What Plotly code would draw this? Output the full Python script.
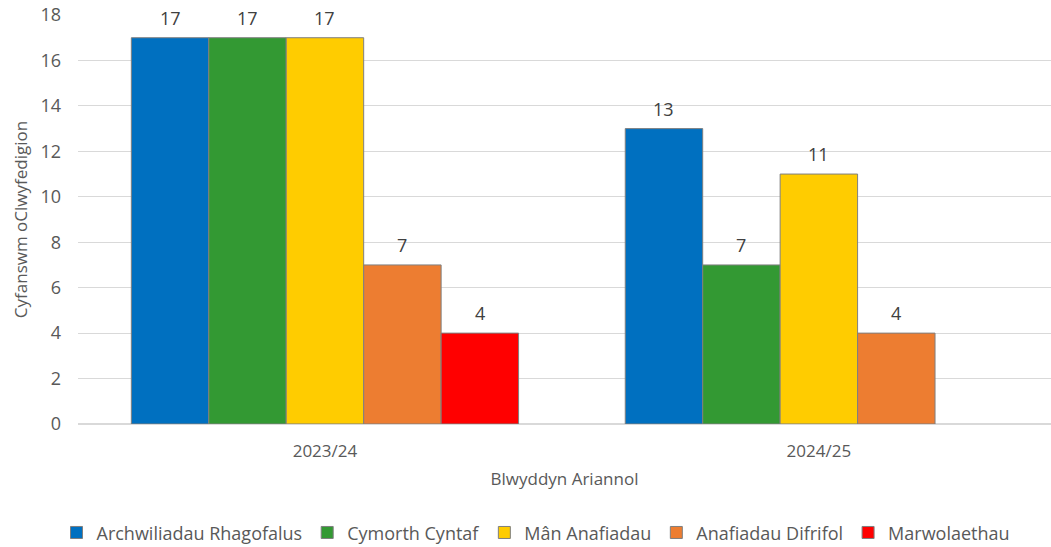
import plotly.graph_objects as go

categories = ["2023/24", "2024/25"]
series_names = ["Archwiliadau Rhagofalus", "Cymorth Cyntaf", "Mân Anafiadau", "Anafiadau Difrifol", "Marwolaethau"]
archwiliadau = [17, 13]
cymorth = [17, 7]
man_anafiadau = [17, 11]
anafiadau_difrifol = [7, 4]
marwolaethau = [4, None]
y_ticks = [0, 2, 4, 6, 8, 10, 12, 14, 16, 18]

values = [archwiliadau, cymorth, man_anafiadau, anafiadau_difrifol, marwolaethau]
colors = ["#0070C0", "#339933", "#FFCC00", "#ED7D31", "#FF0000"]

BARGAP = 0.216
n_series = len(series_names)
group_w = 1 - BARGAP
bar_w = group_w / n_series

fig = go.Figure()
annotations = []
for k, (name, vals, col) in enumerate(zip(series_names, values, colors)):
    fig.add_trace(go.Bar(
        name=name, x=categories, y=vals,
        marker=dict(color=col, line=dict(color="#7F7F7F", width=1)),
    ))
    for i, v in enumerate(vals):
        if v is None:
            continue
        annotations.append(dict(
            x=i - group_w / 2 + bar_w * (k + 0.5), y=v, xref="x", yref="y",
            text=str(v), showarrow=False, yanchor="bottom", yshift=6,
            font=dict(family="Open Sans", size=18, color="#404040"),
        ))

fig.update_layout(
    width=1051, height=547,
    margin=dict(l=78, r=0, t=15, b=123, autoexpand=False),
    paper_bgcolor="white", plot_bgcolor="white",
    barmode="group", bargap=BARGAP, bargroupgap=0,
    font=dict(family="Open Sans", color="#595959", size=16),
    showlegend=True,
    annotations=annotations,
    legend=dict(orientation="h", xref="container", yref="container",
                x=0.51, xanchor="center", y=0.026, yanchor="middle",
                font=dict(family="Open Sans", size=18, color="#595959"),
                itemwidth=30, tracegroupgap=0),
    xaxis=dict(range=[-0.5, 1.47], showgrid=False, zeroline=False, showline=False,
               automargin=False,
               ticks="", ticklabelstandoff=15, tickfont=dict(size=17, color="#595959"),
               title=dict(text="Blwyddyn Ariannol", font=dict(size=17, color="#595959"), standoff=12)),
    yaxis=dict(range=[0, 18], tickvals=y_ticks, showgrid=True, gridcolor="#D9D9D9", gridwidth=1,
               zeroline=True, zerolinecolor="#D9D9D9", showline=False, ticks="",
               automargin=False, ticklabeloverflow="allow",
               ticklabelstandoff=16, tickfont=dict(size=18, color="#595959"),
               title=dict(text="Cyfanswm oClwyfedigion", font=dict(size=17, color="#595959"), standoff=8)),
)

fig.write_html("out.html", config={"displayModeBar": False},
               post_script="document.body.style.margin='0';")
